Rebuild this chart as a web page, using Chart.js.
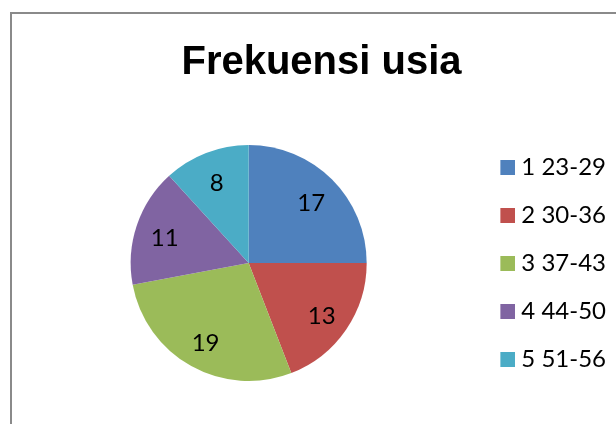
<!DOCTYPE html>
<html><head><meta charset="utf-8">
<script src="https://cdn.jsdelivr.net/npm/chart.js@4/dist/chart.umd.min.js"></script>
<style>html,body{margin:0;padding:0;background:#fff}#wrap{width:616px;height:424px}</style>
</head><body><div id="wrap"><canvas id="c" width="616" height="424"></canvas></div>
<script>
const categories = ['1 23-29', '2 30-36', '3 37-43', '4 44-50', '5 51-56'];
const frequencies = [17, 13, 19, 11, 8];
const sliceColors = ['#4F81BD', '#C0504D', '#9BBB59', '#8064A2', '#4BACC6'];
const chartTitle = 'Frekuensi usia';

const FONT = 'Lato';
const TITLE_FONT = '"Liberation Sans", Arial, sans-serif';

function makeMarker(color) {
  const c = document.createElement('canvas');
  c.width = 27; c.height = 15;
  const g = c.getContext('2d');
  g.fillStyle = color;
  g.fillRect(12, 0, 15, 15);
  return c;
}
const markers = sliceColors.map(makeMarker);

const framePlugin = {
  id: 'frame',
  beforeDraw(chart) {
    const ctx = chart.ctx;
    ctx.save();
    ctx.fillStyle = '#ffffff';
    ctx.fillRect(0, 0, chart.width, chart.height);
    ctx.strokeStyle = '#8a8a8a';
    ctx.lineWidth = 2;
    ctx.strokeRect(11, 13, 700, 500);
    ctx.restore();
  }
};

const valueLabels = {
  id: 'valueLabels',
  afterDatasetsDraw(chart) {
    const ctx = chart.ctx;
    const meta = chart.getDatasetMeta(0);
    const data = chart.data.datasets[0].data;
    ctx.save();
    ctx.font = '24px ' + FONT;
    ctx.fillStyle = '#000000';
    ctx.textAlign = 'center';
    ctx.textBaseline = 'middle';
    meta.data.forEach((arc, i) => {
      const p = arc.getProps(['x', 'y', 'startAngle', 'endAngle', 'outerRadius'], true);
      const mid = (p.startAngle + p.endAngle) / 2;
      const r = p.outerRadius * 0.75;
      ctx.fillText(String(data[i]), p.x + Math.cos(mid) * r, p.y + Math.sin(mid) * r + 3);
    });
    ctx.restore();
  }
};

new Chart(document.getElementById('c'), {
  type: 'pie',
  data: {
    labels: categories,
    datasets: [{
      data: frequencies,
      backgroundColor: sliceColors,
      borderWidth: 0,
      radius: 118
    }]
  },
  options: {
    responsive: false,
    devicePixelRatio: 1,
    animation: false,
    layout: { padding: { left: 27, right: 0, top: 0, bottom: 28 } },
    plugins: {
      tooltip: { enabled: false },
      title: {
        display: true,
        text: chartTitle,
        color: '#000000',
        font: { family: TITLE_FONT, size: 40, weight: 'bold' },
        padding: { top: 39, bottom: 43 }
      },
      legend: {
        position: 'right',
        fullSize: false,
        labels: {
          color: '#000000',
          font: { family: FONT, size: 24 },
          boxWidth: 15,
          boxHeight: 15,
          padding: 24,
          usePointStyle: true,
          generateLabels(chart) {
            return chart.data.labels.map((l, i) => ({
              text: l,
              fillStyle: sliceColors[i],
              strokeStyle: sliceColors[i],
              lineWidth: 0,
              pointStyle: markers[i],
              hidden: false,
              index: i,
              fontColor: '#000000'
            }));
          }
        }
      }
    }
  },
  plugins: [framePlugin, valueLabels]
});
</script>
</body></html>
